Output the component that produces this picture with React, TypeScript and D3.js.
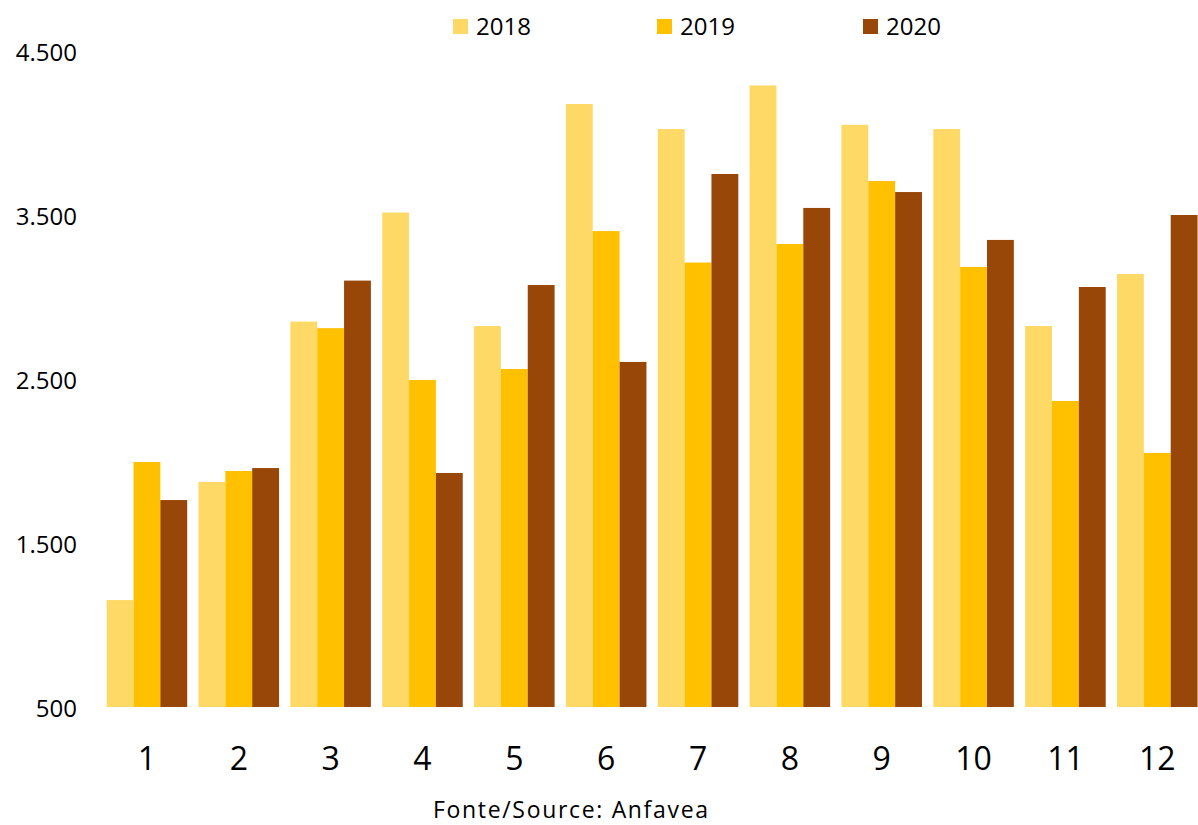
import React from "react";
import * as d3 from "d3";

const months = ["1", "2", "3", "4", "5", "6", "7", "8", "9", "10", "11", "12"];
const years = ["2018", "2019", "2020"];
const v2018 = [1152, 1872, 2850, 3515, 2823, 4177, 4024, 4290, 4050, 4024, 2823, 3140];
const v2019 = [1994, 1939, 2810, 2494, 2561, 3402, 3210, 3323, 3707, 3183, 2366, 2049];
const v2020 = [1762, 1957, 3100, 1927, 3073, 2604, 3750, 3543, 3640, 3348, 3061, 3500];
const yTicks = [500, 1500, 2500, 3500, 4500];
const colors = ["#FFD966", "#FFC000", "#994709"];
const sourceText = "Fonte/Source: Anfavea";

const W = 1198;
const H = 825;

export default function App() {
  const series = [v2018, v2019, v2020];
  const x = d3
    .scaleBand<string>()
    .domain(months)
    .range([101, 1203.2])
    .paddingInner(0.123)
    .paddingOuter(0.0615);
  const xs = d3.scaleBand<string>().domain(years).range([0, x.bandwidth()]);
  const y = d3.scaleLinear().domain([500, 4500]).range([707, 51]);
  const fmt = (v: number) => d3.format(",")(v).replace(/,/g, ".");
  const font = "'Open Sans', sans-serif";
  const legendX = [453, 657, 863];

  return (
    <svg
      width={W}
      height={H}
      style={{ position: "absolute", left: 0, top: 0, background: "#fff" }}
      fontFamily={font}
    >
      <rect x={0} y={0} width={W} height={H} fill="#fff" />
      {yTicks.map((t) => (
        <text key={t} x={77} y={y(t)} textAnchor="end" dominantBaseline="central" fontSize={24} fill="#000">
          {fmt(t)}
        </text>
      ))}
      {months.map((m, i) => (
        <g key={m}>
          {years.map((yr, j) => {
            const v = series[j][i];
            return (
              <rect
                key={yr}
                x={(x(m) as number) + (xs(yr) as number)}
                y={y(v)}
                width={xs.bandwidth()}
                height={y(500) - y(v)}
                fill={colors[j]}
              />
            );
          })}
          <text
            x={(x(m) as number) + x.bandwidth() / 2}
            y={757}
            textAnchor="middle"
            dominantBaseline="central"
            fontSize={32}
            fill="#000"
          >
            {m}
          </text>
        </g>
      ))}
      {years.map((yr, j) => (
        <g key={yr}>
          <rect x={legendX[j]} y={19} width={15} height={15} fill={colors[j]} />
          <text x={legendX[j] + 23} y={25} dominantBaseline="central" fontSize={24} fill="#000">
            {yr}
          </text>
        </g>
      ))}
      <text
        x={433}
        y={809}
        dominantBaseline="central"
        fontSize={23}
        fill="#000"
        textLength={275}
        lengthAdjust="spacing"
      >
        {sourceText}
      </text>
    </svg>
  );
}
